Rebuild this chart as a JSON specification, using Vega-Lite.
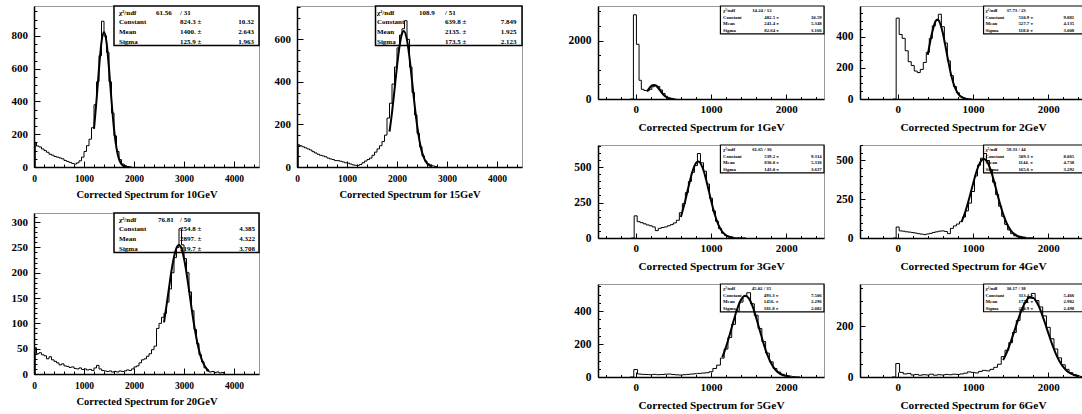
{
"$schema":"https://vega.github.io/schema/vega-lite/v6.json",
"padding":{"left":10,"top":0,"right":5,"bottom":5},
"config":{
 "view":{"stroke":"#999","strokeWidth":1},
 "mark":{"color":"black"},
 "text":{"font":"Liberation Serif","fontWeight":"bold","baseline":"top","lineBreak":"\n","color":"black"},
 "axis":{"grid":false,"domainColor":"black","domainWidth":1.5,"tickColor":"black","tickWidth":1,"labelFont":"Liberation Serif","labelFontWeight":"bold","labelColor":"black","titleFont":"Liberation Serif","titleFontWeight":"bold","titleColor":"black","labelFlush":false,"labelOverlap":false,"titlePadding":4},
 "axisX":{"labelPadding":12},
 "axisY":{"labelPadding":12.5}
},
"datasets":{
"s":[
{"p":"10GeV","n":"χ²/ndf\nConstant\nMean\nSigma","c":"61.56","v":"/  31\n824.3 ±\n1400. ±\n125.9 ±","e":"10.32\n2.643\n1.963"},
{"p":"15GeV","n":"χ²/ndf\nConstant\nMean\nSigma","c":"108.9","v":"/  51\n639.8 ±\n2135. ±\n173.5 ±","e":"7.849\n1.925\n2.123"},
{"p":"20GeV","n":"χ²/ndf\nConstant\nMean\nSigma","c":"76.81","v":"/  50\n254.8 ±\n2897. ±\n219.7 ±","e":"4.385\n4.322\n3.708"},
{"p":"1GeV","n":"χ²/ndf\nConstant\nMean\nSigma","c":"14.24","v":"/  12\n482.5 ±\n241.4 ±\n82.64 ±","e":"10.59\n5.348\n3.166"},
{"p":"2GeV","n":"χ²/ndf\nConstant\nMean\nSigma","c":"37.73","v":"/  23\n510.9 ±\n527.7 ±\n118.0 ±","e":"9.881\n4.135\n3.008"},
{"p":"3GeV","n":"χ²/ndf\nConstant\nMean\nSigma","c":"61.65","v":"/  36\n539.2 ±\n830.0 ±\n143.0 ±","e":"9.314\n5.318\n3.637"},
{"p":"4GeV","n":"χ²/ndf\nConstant\nMean\nSigma","c":"59.33","v":"/  44\n509.3 ±\n1144. ±\n165.6 ±","e":"8.065\n4.738\n3.292"},
{"p":"5GeV","n":"χ²/ndf\nConstant\nMean\nSigma","c":"45.02","v":"/  35\n493.3 ±\n1456. ±\n181.8 ±","e":"7.506\n2.296\n2.082"},
{"p":"6GeV","n":"χ²/ndf\nConstant\nMean\nSigma","c":"30.17","v":"/  38\n313.4 ±\n1770. ±\n210.9 ±","e":"5.466\n2.982\n2.498"}
],
"h":[
{"p":"10GeV","x":0,"y":0},{"p":"10GeV","x":25,"y":150},{"p":"10GeV","x":50,"y":128},{"p":"10GeV","x":100,"y":122},{"p":"10GeV","x":150,"y":110},{"p":"10GeV","x":200,"y":100},{"p":"10GeV","x":250,"y":90},{"p":"10GeV","x":300,"y":78},{"p":"10GeV","x":350,"y":72},{"p":"10GeV","x":400,"y":64},{"p":"10GeV","x":450,"y":60},{"p":"10GeV","x":500,"y":55},{"p":"10GeV","x":550,"y":50},{"p":"10GeV","x":600,"y":40},{"p":"10GeV","x":650,"y":34},{"p":"10GeV","x":700,"y":28},{"p":"10GeV","x":750,"y":22},{"p":"10GeV","x":800,"y":18},{"p":"10GeV","x":850,"y":25},{"p":"10GeV","x":900,"y":38},{"p":"10GeV","x":950,"y":60},{"p":"10GeV","x":1000,"y":95},{"p":"10GeV","x":1050,"y":130},{"p":"10GeV","x":1100,"y":170},{"p":"10GeV","x":1150,"y":240},{"p":"10GeV","x":1200,"y":380},{"p":"10GeV","x":1250,"y":520},{"p":"10GeV","x":1300,"y":680},{"p":"10GeV","x":1350,"y":890},{"p":"10GeV","x":1400,"y":800},{"p":"10GeV","x":1450,"y":700},{"p":"10GeV","x":1500,"y":520},{"p":"10GeV","x":1550,"y":330},{"p":"10GeV","x":1600,"y":190},{"p":"10GeV","x":1650,"y":95},{"p":"10GeV","x":1700,"y":45},{"p":"10GeV","x":1750,"y":18},{"p":"10GeV","x":1800,"y":8},{"p":"10GeV","x":1850,"y":3},{"p":"10GeV","x":1900,"y":1},{"p":"10GeV","x":1950,"y":0},
{"p":"15GeV","x":0,"y":0},{"p":"15GeV","x":25,"y":105},{"p":"15GeV","x":50,"y":100},{"p":"15GeV","x":100,"y":95},{"p":"15GeV","x":150,"y":90},{"p":"15GeV","x":200,"y":85},{"p":"15GeV","x":250,"y":80},{"p":"15GeV","x":300,"y":72},{"p":"15GeV","x":350,"y":66},{"p":"15GeV","x":400,"y":60},{"p":"15GeV","x":450,"y":55},{"p":"15GeV","x":500,"y":52},{"p":"15GeV","x":550,"y":48},{"p":"15GeV","x":600,"y":42},{"p":"15GeV","x":650,"y":38},{"p":"15GeV","x":700,"y":35},{"p":"15GeV","x":750,"y":30},{"p":"15GeV","x":800,"y":30},{"p":"15GeV","x":850,"y":27},{"p":"15GeV","x":900,"y":24},{"p":"15GeV","x":950,"y":20},{"p":"15GeV","x":1000,"y":18},{"p":"15GeV","x":1050,"y":14},{"p":"15GeV","x":1100,"y":10},{"p":"15GeV","x":1150,"y":8},{"p":"15GeV","x":1200,"y":8},{"p":"15GeV","x":1250,"y":12},{"p":"15GeV","x":1300,"y":20},{"p":"15GeV","x":1350,"y":28},{"p":"15GeV","x":1400,"y":35},{"p":"15GeV","x":1450,"y":42},{"p":"15GeV","x":1500,"y":55},{"p":"15GeV","x":1550,"y":70},{"p":"15GeV","x":1600,"y":85},{"p":"15GeV","x":1650,"y":100},{"p":"15GeV","x":1700,"y":120},{"p":"15GeV","x":1750,"y":150},{"p":"15GeV","x":1800,"y":230},{"p":"15GeV","x":1850,"y":300},{"p":"15GeV","x":1900,"y":390},{"p":"15GeV","x":1950,"y":470},{"p":"15GeV","x":2000,"y":560},{"p":"15GeV","x":2050,"y":620},{"p":"15GeV","x":2100,"y":650},{"p":"15GeV","x":2150,"y":688},{"p":"15GeV","x":2200,"y":600},{"p":"15GeV","x":2250,"y":470},{"p":"15GeV","x":2300,"y":350},{"p":"15GeV","x":2350,"y":245},{"p":"15GeV","x":2400,"y":158},{"p":"15GeV","x":2450,"y":95},{"p":"15GeV","x":2500,"y":52},{"p":"15GeV","x":2550,"y":28},{"p":"15GeV","x":2600,"y":15},{"p":"15GeV","x":2650,"y":10},{"p":"15GeV","x":2700,"y":5},{"p":"15GeV","x":2750,"y":2},{"p":"15GeV","x":2800,"y":0},
{"p":"20GeV","x":0,"y":0},{"p":"20GeV","x":25,"y":52},{"p":"20GeV","x":50,"y":40},{"p":"20GeV","x":100,"y":42},{"p":"20GeV","x":150,"y":38},{"p":"20GeV","x":200,"y":36},{"p":"20GeV","x":250,"y":30},{"p":"20GeV","x":300,"y":34},{"p":"20GeV","x":350,"y":28},{"p":"20GeV","x":400,"y":25},{"p":"20GeV","x":450,"y":22},{"p":"20GeV","x":500,"y":18},{"p":"20GeV","x":550,"y":20},{"p":"20GeV","x":600,"y":16},{"p":"20GeV","x":650,"y":15},{"p":"20GeV","x":700,"y":13},{"p":"20GeV","x":750,"y":14},{"p":"20GeV","x":800,"y":11},{"p":"20GeV","x":850,"y":10},{"p":"20GeV","x":900,"y":12},{"p":"20GeV","x":950,"y":9},{"p":"20GeV","x":1000,"y":10},{"p":"20GeV","x":1050,"y":8},{"p":"20GeV","x":1100,"y":9},{"p":"20GeV","x":1150,"y":7},{"p":"20GeV","x":1200,"y":12},{"p":"20GeV","x":1250,"y":17},{"p":"20GeV","x":1300,"y":10},{"p":"20GeV","x":1350,"y":7},{"p":"20GeV","x":1400,"y":6},{"p":"20GeV","x":1450,"y":5},{"p":"20GeV","x":1500,"y":6},{"p":"20GeV","x":1550,"y":4},{"p":"20GeV","x":1600,"y":5},{"p":"20GeV","x":1650,"y":4},{"p":"20GeV","x":1700,"y":6},{"p":"20GeV","x":1750,"y":5},{"p":"20GeV","x":1800,"y":6},{"p":"20GeV","x":1850,"y":8},{"p":"20GeV","x":1900,"y":7},{"p":"20GeV","x":1950,"y":10},{"p":"20GeV","x":2000,"y":14},{"p":"20GeV","x":2050,"y":16},{"p":"20GeV","x":2100,"y":22},{"p":"20GeV","x":2150,"y":28},{"p":"20GeV","x":2200,"y":30},{"p":"20GeV","x":2250,"y":35},{"p":"20GeV","x":2300,"y":40},{"p":"20GeV","x":2350,"y":48},{"p":"20GeV","x":2400,"y":55},{"p":"20GeV","x":2450,"y":90},{"p":"20GeV","x":2500,"y":100},{"p":"20GeV","x":2550,"y":112},{"p":"20GeV","x":2600,"y":120},{"p":"20GeV","x":2650,"y":142},{"p":"20GeV","x":2700,"y":168},{"p":"20GeV","x":2750,"y":200},{"p":"20GeV","x":2800,"y":230},{"p":"20GeV","x":2850,"y":250},{"p":"20GeV","x":2900,"y":287},{"p":"20GeV","x":2950,"y":255},{"p":"20GeV","x":3000,"y":228},{"p":"20GeV","x":3050,"y":200},{"p":"20GeV","x":3100,"y":162},{"p":"20GeV","x":3150,"y":125},{"p":"20GeV","x":3200,"y":88},{"p":"20GeV","x":3250,"y":60},{"p":"20GeV","x":3300,"y":38},{"p":"20GeV","x":3350,"y":24},{"p":"20GeV","x":3400,"y":12},{"p":"20GeV","x":3450,"y":6},{"p":"20GeV","x":3500,"y":4},{"p":"20GeV","x":3550,"y":5},{"p":"20GeV","x":3600,"y":3},{"p":"20GeV","x":3650,"y":4},{"p":"20GeV","x":3700,"y":2},{"p":"20GeV","x":3750,"y":3},{"p":"20GeV","x":3800,"y":0},
{"p":"1GeV","x":-70,"y":0},{"p":"1GeV","x":-30,"y":2880},{"p":"1GeV","x":10,"y":1870},{"p":"1GeV","x":45,"y":640},{"p":"1GeV","x":75,"y":330},{"p":"1GeV","x":110,"y":290},{"p":"1GeV","x":145,"y":280},{"p":"1GeV","x":180,"y":330},{"p":"1GeV","x":215,"y":420},{"p":"1GeV","x":250,"y":470},{"p":"1GeV","x":285,"y":430},{"p":"1GeV","x":320,"y":310},{"p":"1GeV","x":355,"y":190},{"p":"1GeV","x":390,"y":92},{"p":"1GeV","x":425,"y":40},{"p":"1GeV","x":460,"y":14},{"p":"1GeV","x":495,"y":4},{"p":"1GeV","x":530,"y":0},
{"p":"2GeV","x":-60,"y":0},{"p":"2GeV","x":-20,"y":520},{"p":"2GeV","x":20,"y":415},{"p":"2GeV","x":60,"y":390},{"p":"2GeV","x":100,"y":310},{"p":"2GeV","x":140,"y":240},{"p":"2GeV","x":180,"y":215},{"p":"2GeV","x":220,"y":180},{"p":"2GeV","x":260,"y":170},{"p":"2GeV","x":300,"y":190},{"p":"2GeV","x":340,"y":235},{"p":"2GeV","x":380,"y":300},{"p":"2GeV","x":420,"y":390},{"p":"2GeV","x":460,"y":470},{"p":"2GeV","x":500,"y":505},{"p":"2GeV","x":540,"y":545},{"p":"2GeV","x":580,"y":465},{"p":"2GeV","x":620,"y":360},{"p":"2GeV","x":660,"y":245},{"p":"2GeV","x":700,"y":150},{"p":"2GeV","x":740,"y":80},{"p":"2GeV","x":780,"y":40},{"p":"2GeV","x":820,"y":16},{"p":"2GeV","x":860,"y":7},{"p":"2GeV","x":900,"y":3},{"p":"2GeV","x":940,"y":1},{"p":"2GeV","x":980,"y":0},
{"p":"3GeV","x":-60,"y":0},{"p":"3GeV","x":-20,"y":156},{"p":"3GeV","x":20,"y":115},{"p":"3GeV","x":60,"y":108},{"p":"3GeV","x":100,"y":100},{"p":"3GeV","x":140,"y":92},{"p":"3GeV","x":180,"y":86},{"p":"3GeV","x":220,"y":78},{"p":"3GeV","x":260,"y":52},{"p":"3GeV","x":300,"y":68},{"p":"3GeV","x":340,"y":74},{"p":"3GeV","x":380,"y":78},{"p":"3GeV","x":420,"y":86},{"p":"3GeV","x":460,"y":94},{"p":"3GeV","x":500,"y":106},{"p":"3GeV","x":540,"y":125},{"p":"3GeV","x":580,"y":178},{"p":"3GeV","x":620,"y":242},{"p":"3GeV","x":660,"y":320},{"p":"3GeV","x":700,"y":398},{"p":"3GeV","x":740,"y":462},{"p":"3GeV","x":780,"y":510},{"p":"3GeV","x":820,"y":595},{"p":"3GeV","x":860,"y":530},{"p":"3GeV","x":900,"y":470},{"p":"3GeV","x":940,"y":380},{"p":"3GeV","x":980,"y":280},{"p":"3GeV","x":1020,"y":190},{"p":"3GeV","x":1060,"y":118},{"p":"3GeV","x":1100,"y":66},{"p":"3GeV","x":1140,"y":34},{"p":"3GeV","x":1180,"y":17},{"p":"3GeV","x":1220,"y":8},{"p":"3GeV","x":1260,"y":4},{"p":"3GeV","x":1300,"y":2},{"p":"3GeV","x":1340,"y":2},{"p":"3GeV","x":1380,"y":1},{"p":"3GeV","x":1460,"y":0},
{"p":"4GeV","x":-60,"y":0},{"p":"4GeV","x":-20,"y":71},{"p":"4GeV","x":20,"y":46},{"p":"4GeV","x":60,"y":44},{"p":"4GeV","x":100,"y":40},{"p":"4GeV","x":140,"y":38},{"p":"4GeV","x":180,"y":35},{"p":"4GeV","x":220,"y":32},{"p":"4GeV","x":260,"y":28},{"p":"4GeV","x":300,"y":25},{"p":"4GeV","x":340,"y":22},{"p":"4GeV","x":380,"y":26},{"p":"4GeV","x":420,"y":30},{"p":"4GeV","x":460,"y":36},{"p":"4GeV","x":500,"y":40},{"p":"4GeV","x":540,"y":44},{"p":"4GeV","x":580,"y":46},{"p":"4GeV","x":620,"y":42},{"p":"4GeV","x":660,"y":28},{"p":"4GeV","x":700,"y":62},{"p":"4GeV","x":740,"y":78},{"p":"4GeV","x":780,"y":90},{"p":"4GeV","x":820,"y":105},{"p":"4GeV","x":860,"y":135},{"p":"4GeV","x":900,"y":175},{"p":"4GeV","x":940,"y":225},{"p":"4GeV","x":980,"y":300},{"p":"4GeV","x":1020,"y":400},{"p":"4GeV","x":1060,"y":470},{"p":"4GeV","x":1100,"y":515},{"p":"4GeV","x":1140,"y":545},{"p":"4GeV","x":1180,"y":500},{"p":"4GeV","x":1220,"y":440},{"p":"4GeV","x":1260,"y":360},{"p":"4GeV","x":1300,"y":280},{"p":"4GeV","x":1340,"y":205},{"p":"4GeV","x":1380,"y":140},{"p":"4GeV","x":1420,"y":88},{"p":"4GeV","x":1460,"y":52},{"p":"4GeV","x":1500,"y":28},{"p":"4GeV","x":1540,"y":15},{"p":"4GeV","x":1580,"y":8},{"p":"4GeV","x":1620,"y":4},{"p":"4GeV","x":1660,"y":2},{"p":"4GeV","x":1700,"y":1},{"p":"4GeV","x":1800,"y":0},
{"p":"5GeV","x":-75,"y":0},{"p":"5GeV","x":-25,"y":45},{"p":"5GeV","x":25,"y":18},{"p":"5GeV","x":75,"y":16},{"p":"5GeV","x":125,"y":15},{"p":"5GeV","x":175,"y":14},{"p":"5GeV","x":225,"y":16},{"p":"5GeV","x":275,"y":14},{"p":"5GeV","x":325,"y":15},{"p":"5GeV","x":375,"y":17},{"p":"5GeV","x":425,"y":18},{"p":"5GeV","x":475,"y":15},{"p":"5GeV","x":525,"y":13},{"p":"5GeV","x":575,"y":12},{"p":"5GeV","x":625,"y":14},{"p":"5GeV","x":675,"y":16},{"p":"5GeV","x":725,"y":18},{"p":"5GeV","x":775,"y":20},{"p":"5GeV","x":825,"y":22},{"p":"5GeV","x":875,"y":24},{"p":"5GeV","x":925,"y":26},{"p":"5GeV","x":975,"y":32},{"p":"5GeV","x":1025,"y":52},{"p":"5GeV","x":1075,"y":72},{"p":"5GeV","x":1125,"y":115},{"p":"5GeV","x":1175,"y":170},{"p":"5GeV","x":1225,"y":240},{"p":"5GeV","x":1275,"y":320},{"p":"5GeV","x":1325,"y":400},{"p":"5GeV","x":1375,"y":455},{"p":"5GeV","x":1425,"y":490},{"p":"5GeV","x":1475,"y":512},{"p":"5GeV","x":1525,"y":445},{"p":"5GeV","x":1575,"y":375},{"p":"5GeV","x":1625,"y":295},{"p":"5GeV","x":1675,"y":215},{"p":"5GeV","x":1725,"y":145},{"p":"5GeV","x":1775,"y":92},{"p":"5GeV","x":1825,"y":52},{"p":"5GeV","x":1875,"y":30},{"p":"5GeV","x":1925,"y":16},{"p":"5GeV","x":1975,"y":9},{"p":"5GeV","x":2025,"y":5},{"p":"5GeV","x":2075,"y":2},{"p":"5GeV","x":2125,"y":1},{"p":"5GeV","x":2175,"y":0},
{"p":"6GeV","x":-75,"y":0},{"p":"6GeV","x":-25,"y":53},{"p":"6GeV","x":25,"y":18},{"p":"6GeV","x":75,"y":12},{"p":"6GeV","x":125,"y":14},{"p":"6GeV","x":175,"y":8},{"p":"6GeV","x":225,"y":10},{"p":"6GeV","x":275,"y":7},{"p":"6GeV","x":325,"y":9},{"p":"6GeV","x":375,"y":8},{"p":"6GeV","x":425,"y":11},{"p":"6GeV","x":475,"y":7},{"p":"6GeV","x":525,"y":9},{"p":"6GeV","x":575,"y":8},{"p":"6GeV","x":625,"y":10},{"p":"6GeV","x":675,"y":9},{"p":"6GeV","x":725,"y":11},{"p":"6GeV","x":775,"y":10},{"p":"6GeV","x":825,"y":12},{"p":"6GeV","x":875,"y":15},{"p":"6GeV","x":925,"y":20},{"p":"6GeV","x":975,"y":18},{"p":"6GeV","x":1025,"y":16},{"p":"6GeV","x":1075,"y":22},{"p":"6GeV","x":1125,"y":26},{"p":"6GeV","x":1175,"y":24},{"p":"6GeV","x":1225,"y":30},{"p":"6GeV","x":1275,"y":38},{"p":"6GeV","x":1325,"y":50},{"p":"6GeV","x":1375,"y":80},{"p":"6GeV","x":1425,"y":105},{"p":"6GeV","x":1475,"y":135},{"p":"6GeV","x":1525,"y":175},{"p":"6GeV","x":1575,"y":222},{"p":"6GeV","x":1625,"y":262},{"p":"6GeV","x":1675,"y":292},{"p":"6GeV","x":1725,"y":315},{"p":"6GeV","x":1775,"y":328},{"p":"6GeV","x":1825,"y":300},{"p":"6GeV","x":1875,"y":275},{"p":"6GeV","x":1925,"y":240},{"p":"6GeV","x":1975,"y":195},{"p":"6GeV","x":2025,"y":150},{"p":"6GeV","x":2075,"y":110},{"p":"6GeV","x":2125,"y":75},{"p":"6GeV","x":2175,"y":48},{"p":"6GeV","x":2225,"y":30},{"p":"6GeV","x":2275,"y":17},{"p":"6GeV","x":2325,"y":9},{"p":"6GeV","x":2375,"y":4},{"p":"6GeV","x":2425,"y":2},{"p":"6GeV","x":2475,"y":0}
],
"f":[
{"p":"10GeV","x":1200,"y":233},{"p":"10GeV","x":1250,"y":405},{"p":"10GeV","x":1300,"y":601},{"p":"10GeV","x":1350,"y":762},{"p":"10GeV","x":1400,"y":824},{"p":"10GeV","x":1450,"y":762},{"p":"10GeV","x":1500,"y":601},{"p":"10GeV","x":1550,"y":405},{"p":"10GeV","x":1600,"y":233},{"p":"10GeV","x":1650,"y":115},{"p":"10GeV","x":1700,"y":48},{"p":"10GeV","x":1750,"y":17},{"p":"10GeV","x":1800,"y":5.3},{"p":"10GeV","x":1850,"y":1.5},
{"p":"15GeV","x":1850,"y":166},{"p":"15GeV","x":1900,"y":256},{"p":"15GeV","x":1950,"y":363},{"p":"15GeV","x":2000,"y":473},{"p":"15GeV","x":2050,"y":567},{"p":"15GeV","x":2100,"y":627},{"p":"15GeV","x":2135,"y":640},{"p":"15GeV","x":2200,"y":597},{"p":"15GeV","x":2250,"y":514},{"p":"15GeV","x":2300,"y":407},{"p":"15GeV","x":2350,"y":297},{"p":"15GeV","x":2400,"y":199},{"p":"15GeV","x":2450,"y":123},{"p":"15GeV","x":2500,"y":70},{"p":"15GeV","x":2550,"y":37},{"p":"15GeV","x":2600,"y":17.6},{"p":"15GeV","x":2650,"y":7.8},{"p":"15GeV","x":2700,"y":3.2},
{"p":"20GeV","x":2600,"y":102},{"p":"20GeV","x":2650,"y":135},{"p":"20GeV","x":2700,"y":170},{"p":"20GeV","x":2750,"y":204},{"p":"20GeV","x":2800,"y":231},{"p":"20GeV","x":2850,"y":249},{"p":"20GeV","x":2897,"y":255},{"p":"20GeV","x":2950,"y":248},{"p":"20GeV","x":3000,"y":228},{"p":"20GeV","x":3050,"y":200},{"p":"20GeV","x":3100,"y":166},{"p":"20GeV","x":3150,"y":131},{"p":"20GeV","x":3200,"y":98},{"p":"20GeV","x":3250,"y":70},{"p":"20GeV","x":3300,"y":47},{"p":"20GeV","x":3350,"y":30},{"p":"20GeV","x":3400,"y":18.5},{"p":"20GeV","x":3450,"y":10.7},{"p":"20GeV","x":3500,"y":5.9},
{"p":"1GeV","x":150,"y":262},{"p":"1GeV","x":175,"y":349},{"p":"1GeV","x":200,"y":426},{"p":"1GeV","x":225,"y":473},{"p":"1GeV","x":241,"y":482},{"p":"1GeV","x":275,"y":444},{"p":"1GeV","x":300,"y":375},{"p":"1GeV","x":325,"y":289},{"p":"1GeV","x":350,"y":203},{"p":"1GeV","x":375,"y":130},{"p":"1GeV","x":400,"y":77},{"p":"1GeV","x":425,"y":41},{"p":"1GeV","x":450,"y":20},{"p":"1GeV","x":475,"y":9},{"p":"1GeV","x":500,"y":3.6},
{"p":"2GeV","x":400,"y":284},{"p":"2GeV","x":450,"y":411},{"p":"2GeV","x":500,"y":497},{"p":"2GeV","x":527,"y":511},{"p":"2GeV","x":550,"y":502},{"p":"2GeV","x":600,"y":423},{"p":"2GeV","x":650,"y":299},{"p":"2GeV","x":700,"y":176},{"p":"2GeV","x":750,"y":86.5},{"p":"2GeV","x":800,"y":35.7},{"p":"2GeV","x":850,"y":12.3},{"p":"2GeV","x":900,"y":3.5},
{"p":"3GeV","x":600,"y":148},{"p":"3GeV","x":650,"y":244},{"p":"3GeV","x":700,"y":357},{"p":"3GeV","x":750,"y":461},{"p":"3GeV","x":800,"y":527},{"p":"3GeV","x":830,"y":539},{"p":"3GeV","x":850,"y":534},{"p":"3GeV","x":900,"y":478},{"p":"3GeV","x":950,"y":379},{"p":"3GeV","x":1000,"y":266},{"p":"3GeV","x":1050,"y":165},{"p":"3GeV","x":1100,"y":91},{"p":"3GeV","x":1150,"y":44},{"p":"3GeV","x":1200,"y":19},{"p":"3GeV","x":1250,"y":7.2},{"p":"3GeV","x":1300,"y":2.4},
{"p":"4GeV","x":850,"y":105},{"p":"4GeV","x":900,"y":172},{"p":"4GeV","x":950,"y":256},{"p":"4GeV","x":1000,"y":349},{"p":"4GeV","x":1050,"y":434},{"p":"4GeV","x":1100,"y":492},{"p":"4GeV","x":1144,"y":509},{"p":"4GeV","x":1200,"y":481},{"p":"4GeV","x":1250,"y":415},{"p":"4GeV","x":1300,"y":327},{"p":"4GeV","x":1350,"y":235},{"p":"4GeV","x":1400,"y":154},{"p":"4GeV","x":1450,"y":92},{"p":"4GeV","x":1500,"y":50},{"p":"4GeV","x":1550,"y":25},{"p":"4GeV","x":1600,"y":11.5},{"p":"4GeV","x":1650,"y":4.8},{"p":"4GeV","x":1700,"y":1.8},
{"p":"5GeV","x":1150,"y":120},{"p":"5GeV","x":1200,"y":183},{"p":"5GeV","x":1250,"y":260},{"p":"5GeV","x":1300,"y":341},{"p":"5GeV","x":1350,"y":416},{"p":"5GeV","x":1400,"y":470},{"p":"5GeV","x":1456,"y":493},{"p":"5GeV","x":1500,"y":479},{"p":"5GeV","x":1550,"y":432},{"p":"5GeV","x":1600,"y":360},{"p":"5GeV","x":1650,"y":279},{"p":"5GeV","x":1700,"y":200},{"p":"5GeV","x":1750,"y":133},{"p":"5GeV","x":1800,"y":82},{"p":"5GeV","x":1850,"y":47},{"p":"5GeV","x":1900,"y":25},{"p":"5GeV","x":1950,"y":12.3},{"p":"5GeV","x":2000,"y":5.6},{"p":"5GeV","x":2050,"y":2.4},
{"p":"6GeV","x":1400,"y":66},{"p":"6GeV","x":1450,"y":98},{"p":"6GeV","x":1500,"y":137},{"p":"6GeV","x":1550,"y":181},{"p":"6GeV","x":1600,"y":226},{"p":"6GeV","x":1650,"y":266},{"p":"6GeV","x":1700,"y":296},{"p":"6GeV","x":1750,"y":312},{"p":"6GeV","x":1800,"y":310},{"p":"6GeV","x":1850,"y":291},{"p":"6GeV","x":1900,"y":259},{"p":"6GeV","x":1950,"y":217},{"p":"6GeV","x":2000,"y":172},{"p":"6GeV","x":2050,"y":129},{"p":"6GeV","x":2100,"y":91},{"p":"6GeV","x":2150,"y":61},{"p":"6GeV","x":2200,"y":38.5},{"p":"6GeV","x":2250,"y":23},{"p":"6GeV","x":2300,"y":13},{"p":"6GeV","x":2350,"y":6.9},{"p":"6GeV","x":2400,"y":3.5}
]
},
"spacing":43,
"hconcat":[
{"spacing":12,"hconcat":[
 {"spacing":46,"bounds":"flush","vconcat":[
  {"width":225,"height":161,"layer":[
   {"data":{"name":"s"},"transform":[{"filter":"datum.p==='10GeV'"}],"mark":{"type":"rect","fill":"white","stroke":"black","strokeWidth":1.5},"encoding":{"x":{"datum":1600,"type":"quantitative"},"x2":{"datum":4500},"y":{"datum":742,"type":"quantitative"},"y2":{"datum":983}}},
   {"data":{"name":"s"},"transform":[{"filter":"datum.p==='10GeV'"}],"mark":{"type":"text","align":"left","fontSize":7,"lineHeight":9.7,"dy":2.5},"encoding":{"x":{"datum":1700,"type":"quantitative"},"y":{"datum":983,"type":"quantitative"},"text":{"field":"n"}}},
   {"data":{"name":"s"},"transform":[{"filter":"datum.p==='10GeV'"}],"mark":{"type":"text","align":"left","fontSize":7,"lineHeight":9.7,"dy":2.5},"encoding":{"x":{"datum":2440,"type":"quantitative"},"y":{"datum":983,"type":"quantitative"},"text":{"field":"c"}}},
   {"data":{"name":"s"},"transform":[{"filter":"datum.p==='10GeV'"}],"mark":{"type":"text","align":"left","fontSize":7,"lineHeight":9.7,"dy":2.5},"encoding":{"x":{"datum":2920,"type":"quantitative"},"y":{"datum":983,"type":"quantitative"},"text":{"field":"v"}}},
   {"data":{"name":"s"},"transform":[{"filter":"datum.p==='10GeV'"}],"mark":{"type":"text","align":"right","fontSize":7,"lineHeight":9.7,"dy":12.2},"encoding":{"x":{"datum":4400,"type":"quantitative"},"y":{"datum":983,"type":"quantitative"},"text":{"field":"e"}}},
   {"data":{"name":"h"},"transform":[{"filter":"datum.p==='10GeV'"}],"mark":{"type":"line","interpolate":"step-after","strokeWidth":1},"encoding":{
     "x":{"field":"x","type":"quantitative","scale":{"domain":[0,4500],"nice":false},"axis":{"title":"Corrected Spectrum for 10GeV","tickCount":22,"labelExpr":"datum.value % 1000 === 0 ? format(datum.value,'d') : ''","tickSize":{"condition":{"test":"datum.value % 1000 === 0","value":-6},"value":-3},"labelFontSize":9.5,"titleFontSize":10.5}},
     "y":{"field":"y","type":"quantitative","scale":{"domain":[0,983],"nice":false},"axis":{"title":null,"tickCount":20,"labelExpr":"datum.value % 200 === 0 ? format(datum.value,'d') : ''","tickSize":{"condition":{"test":"datum.value % 200 === 0","value":-6},"value":-3},"labelFontSize":11}}}},
   {"data":{"name":"f"},"transform":[{"filter":"datum.p==='10GeV'"}],"mark":{"type":"line","interpolate":"monotone","strokeWidth":2},"encoding":{"x":{"field":"x","type":"quantitative"},"y":{"field":"y","type":"quantitative"}}}
  ]},
  {"width":225,"height":161,"layer":[
   {"data":{"name":"s"},"transform":[{"filter":"datum.p==='20GeV'"}],"mark":{"type":"rect","fill":"white","stroke":"black","strokeWidth":1.5},"encoding":{"x":{"datum":1600,"type":"quantitative"},"x2":{"datum":4500},"y":{"datum":240,"type":"quantitative"},"y2":{"datum":318}}},
   {"data":{"name":"s"},"transform":[{"filter":"datum.p==='20GeV'"}],"mark":{"type":"text","align":"left","fontSize":7,"lineHeight":9.7,"dy":2.5},"encoding":{"x":{"datum":1700,"type":"quantitative"},"y":{"datum":318,"type":"quantitative"},"text":{"field":"n"}}},
   {"data":{"name":"s"},"transform":[{"filter":"datum.p==='20GeV'"}],"mark":{"type":"text","align":"left","fontSize":7,"lineHeight":9.7,"dy":2.5},"encoding":{"x":{"datum":2480,"type":"quantitative"},"y":{"datum":318,"type":"quantitative"},"text":{"field":"c"}}},
   {"data":{"name":"s"},"transform":[{"filter":"datum.p==='20GeV'"}],"mark":{"type":"text","align":"left","fontSize":7,"lineHeight":9.7,"dy":2.5},"encoding":{"x":{"datum":2920,"type":"quantitative"},"y":{"datum":318,"type":"quantitative"},"text":{"field":"v"}}},
   {"data":{"name":"s"},"transform":[{"filter":"datum.p==='20GeV'"}],"mark":{"type":"text","align":"right","fontSize":7,"lineHeight":9.7,"dy":12.2},"encoding":{"x":{"datum":4420,"type":"quantitative"},"y":{"datum":318,"type":"quantitative"},"text":{"field":"e"}}},
   {"data":{"name":"h"},"transform":[{"filter":"datum.p==='20GeV'"}],"mark":{"type":"line","interpolate":"step-after","strokeWidth":1},"encoding":{
     "x":{"field":"x","type":"quantitative","scale":{"domain":[0,4500],"nice":false},"axis":{"title":"Corrected Spectrum for 20GeV","tickCount":22,"labelExpr":"datum.value % 1000 === 0 ? format(datum.value,'d') : ''","tickSize":{"condition":{"test":"datum.value % 1000 === 0","value":-6},"value":-3},"labelFontSize":9.5,"titleFontSize":10.5}},
     "y":{"field":"y","type":"quantitative","scale":{"domain":[0,318],"nice":false},"axis":{"title":null,"tickCount":32,"labelExpr":"datum.value % 50 === 0 ? format(datum.value,'d') : ''","tickSize":{"condition":{"test":"datum.value % 50 === 0","value":-6},"value":-3},"labelFontSize":11}}}},
   {"data":{"name":"f"},"transform":[{"filter":"datum.p==='20GeV'"}],"mark":{"type":"line","interpolate":"monotone","strokeWidth":2},"encoding":{"x":{"field":"x","type":"quantitative"},"y":{"field":"y","type":"quantitative"}}}
  ]}
 ]},
 {"width":225,"height":161,"layer":[
   {"data":{"name":"s"},"transform":[{"filter":"datum.p==='15GeV'"}],"mark":{"type":"rect","fill":"white","stroke":"black","strokeWidth":1.5},"encoding":{"x":{"datum":1570,"type":"quantitative"},"x2":{"datum":4500},"y":{"datum":571,"type":"quantitative"},"y2":{"datum":757}}},
   {"data":{"name":"s"},"transform":[{"filter":"datum.p==='15GeV'"}],"mark":{"type":"text","align":"left","fontSize":7,"lineHeight":9.7,"dy":2.5},"encoding":{"x":{"datum":1600,"type":"quantitative"},"y":{"datum":757,"type":"quantitative"},"text":{"field":"n"}}},
   {"data":{"name":"s"},"transform":[{"filter":"datum.p==='15GeV'"}],"mark":{"type":"text","align":"left","fontSize":7,"lineHeight":9.7,"dy":2.5},"encoding":{"x":{"datum":2440,"type":"quantitative"},"y":{"datum":757,"type":"quantitative"},"text":{"field":"c"}}},
   {"data":{"name":"s"},"transform":[{"filter":"datum.p==='15GeV'"}],"mark":{"type":"text","align":"left","fontSize":7,"lineHeight":9.7,"dy":2.5},"encoding":{"x":{"datum":2960,"type":"quantitative"},"y":{"datum":757,"type":"quantitative"},"text":{"field":"v"}}},
   {"data":{"name":"s"},"transform":[{"filter":"datum.p==='15GeV'"}],"mark":{"type":"text","align":"right","fontSize":7,"lineHeight":9.7,"dy":12.2},"encoding":{"x":{"datum":4390,"type":"quantitative"},"y":{"datum":757,"type":"quantitative"},"text":{"field":"e"}}},
   {"data":{"name":"h"},"transform":[{"filter":"datum.p==='15GeV'"}],"mark":{"type":"line","interpolate":"step-after","strokeWidth":1},"encoding":{
     "x":{"field":"x","type":"quantitative","scale":{"domain":[0,4500],"nice":false},"axis":{"title":"Corrected Spectrum for 15GeV","tickCount":22,"labelExpr":"datum.value % 1000 === 0 ? format(datum.value,'d') : ''","tickSize":{"condition":{"test":"datum.value % 1000 === 0","value":-6},"value":-3},"labelFontSize":9.5,"titleFontSize":10.5}},
     "y":{"field":"y","type":"quantitative","scale":{"domain":[0,757],"nice":false},"axis":{"title":null,"tickCount":15,"labelExpr":"datum.value % 200 === 0 ? format(datum.value,'d') : ''","tickSize":{"condition":{"test":"datum.value % 200 === 0","value":-6},"value":-3},"labelFontSize":11}}}},
   {"data":{"name":"f"},"transform":[{"filter":"datum.p==='15GeV'"}],"mark":{"type":"line","interpolate":"monotone","strokeWidth":2},"encoding":{"x":{"field":"x","type":"quantitative"},"y":{"field":"y","type":"quantitative"}}}
 ]}
]},
{"spacing":9,"hconcat":[
 {"spacing":46,"bounds":"flush","vconcat":[
  {"width":226,"height":93,"layer":[
   {"data":{"name":"s"},"transform":[{"filter":"datum.p==='1GeV'"}],"mark":{"type":"rect","fill":"white","stroke":"black","strokeWidth":1.2},"encoding":{"x":{"datum":1125,"type":"quantitative"},"x2":{"datum":2500},"y":{"datum":2226,"type":"quantitative"},"y2":{"datum":3180}}},
   {"data":{"name":"s"},"transform":[{"filter":"datum.p==='1GeV'"}],"mark":{"type":"text","align":"left","fontSize":4.8,"lineHeight":6.7,"dy":2},"encoding":{"x":{"datum":1160,"type":"quantitative"},"y":{"datum":3180,"type":"quantitative"},"text":{"field":"n"}}},
   {"data":{"name":"s"},"transform":[{"filter":"datum.p==='1GeV'"}],"mark":{"type":"text","align":"left","fontSize":4.8,"lineHeight":6.7,"dy":2},"encoding":{"x":{"datum":1547,"type":"quantitative"},"y":{"datum":3180,"type":"quantitative"},"text":{"field":"c"}}},
   {"data":{"name":"s"},"transform":[{"filter":"datum.p==='1GeV'"}],"mark":{"type":"text","align":"left","fontSize":4.8,"lineHeight":6.7,"dy":2},"encoding":{"x":{"datum":1707,"type":"quantitative"},"y":{"datum":3180,"type":"quantitative"},"text":{"field":"v"}}},
   {"data":{"name":"s"},"transform":[{"filter":"datum.p==='1GeV'"}],"mark":{"type":"text","align":"right","fontSize":4.8,"lineHeight":6.7,"dy":8.7},"encoding":{"x":{"datum":2470,"type":"quantitative"},"y":{"datum":3180,"type":"quantitative"},"text":{"field":"e"}}},
   {"data":{"name":"h"},"transform":[{"filter":"datum.p==='1GeV'"}],"mark":{"type":"line","interpolate":"step-after","strokeWidth":1},"encoding":{
     "x":{"field":"x","type":"quantitative","scale":{"domain":[-500,2500],"nice":false},"axis":{"title":"Corrected Spectrum for 1GeV","tickCount":15,"labelPadding":9.5,"labelExpr":"datum.value % 1000 === 0 ? format(datum.value,'d') : ''","tickSize":{"condition":{"test":"datum.value % 1000 === 0","value":-5},"value":-2.5},"labelFontSize":11,"titleFontSize":11.3}},
     "y":{"field":"y","type":"quantitative","scale":{"domain":[0,3180],"nice":false},"axis":{"title":null,"tickCount":6,"labelPadding":12,"labelExpr":"datum.value % 2000 === 0 ? format(datum.value,'d') : ''","tickSize":{"condition":{"test":"datum.value % 2000 === 0","value":-5},"value":-2.5},"labelFontSize":11.5}}}},
   {"data":{"name":"f"},"transform":[{"filter":"datum.p==='1GeV'"}],"mark":{"type":"line","interpolate":"monotone","strokeWidth":2},"encoding":{"x":{"field":"x","type":"quantitative"},"y":{"field":"y","type":"quantitative"}}}
  ]},
  {"width":226,"height":93,"layer":[
   {"data":{"name":"s"},"transform":[{"filter":"datum.p==='3GeV'"}],"mark":{"type":"rect","fill":"white","stroke":"black","strokeWidth":1.2},"encoding":{"x":{"datum":1125,"type":"quantitative"},"x2":{"datum":2500},"y":{"datum":458,"type":"quantitative"},"y2":{"datum":655}}},
   {"data":{"name":"s"},"transform":[{"filter":"datum.p==='3GeV'"}],"mark":{"type":"text","align":"left","fontSize":4.8,"lineHeight":6.7,"dy":2},"encoding":{"x":{"datum":1160,"type":"quantitative"},"y":{"datum":655,"type":"quantitative"},"text":{"field":"n"}}},
   {"data":{"name":"s"},"transform":[{"filter":"datum.p==='3GeV'"}],"mark":{"type":"text","align":"left","fontSize":4.8,"lineHeight":6.7,"dy":2},"encoding":{"x":{"datum":1547,"type":"quantitative"},"y":{"datum":655,"type":"quantitative"},"text":{"field":"c"}}},
   {"data":{"name":"s"},"transform":[{"filter":"datum.p==='3GeV'"}],"mark":{"type":"text","align":"left","fontSize":4.8,"lineHeight":6.7,"dy":2},"encoding":{"x":{"datum":1707,"type":"quantitative"},"y":{"datum":655,"type":"quantitative"},"text":{"field":"v"}}},
   {"data":{"name":"s"},"transform":[{"filter":"datum.p==='3GeV'"}],"mark":{"type":"text","align":"right","fontSize":4.8,"lineHeight":6.7,"dy":8.7},"encoding":{"x":{"datum":2470,"type":"quantitative"},"y":{"datum":655,"type":"quantitative"},"text":{"field":"e"}}},
   {"data":{"name":"h"},"transform":[{"filter":"datum.p==='3GeV'"}],"mark":{"type":"line","interpolate":"step-after","strokeWidth":1},"encoding":{
     "x":{"field":"x","type":"quantitative","scale":{"domain":[-500,2500],"nice":false},"axis":{"title":"Corrected Spectrum for 3GeV","tickCount":15,"labelPadding":9.5,"labelExpr":"datum.value % 1000 === 0 ? format(datum.value,'d') : ''","tickSize":{"condition":{"test":"datum.value % 1000 === 0","value":-5},"value":-2.5},"labelFontSize":11,"titleFontSize":11.3}},
     "y":{"field":"y","type":"quantitative","scale":{"domain":[0,655],"nice":false},"axis":{"title":null,"tickCount":13,"labelPadding":12,"labelExpr":"datum.value % 250 === 0 ? format(datum.value,'d') : ''","tickSize":{"condition":{"test":"datum.value % 250 === 0","value":-5},"value":-2.5},"labelFontSize":11.5}}}},
   {"data":{"name":"f"},"transform":[{"filter":"datum.p==='3GeV'"}],"mark":{"type":"line","interpolate":"monotone","strokeWidth":2},"encoding":{"x":{"field":"x","type":"quantitative"},"y":{"field":"y","type":"quantitative"}}}
  ]},
  {"width":226,"height":93,"layer":[
   {"data":{"name":"s"},"transform":[{"filter":"datum.p==='5GeV'"}],"mark":{"type":"rect","fill":"white","stroke":"black","strokeWidth":1.2},"encoding":{"x":{"datum":1125,"type":"quantitative"},"x2":{"datum":2500},"y":{"datum":396,"type":"quantitative"},"y2":{"datum":565}}},
   {"data":{"name":"s"},"transform":[{"filter":"datum.p==='5GeV'"}],"mark":{"type":"text","align":"left","fontSize":4.8,"lineHeight":6.7,"dy":2},"encoding":{"x":{"datum":1160,"type":"quantitative"},"y":{"datum":565,"type":"quantitative"},"text":{"field":"n"}}},
   {"data":{"name":"s"},"transform":[{"filter":"datum.p==='5GeV'"}],"mark":{"type":"text","align":"left","fontSize":4.8,"lineHeight":6.7,"dy":2},"encoding":{"x":{"datum":1540,"type":"quantitative"},"y":{"datum":565,"type":"quantitative"},"text":{"field":"c"}}},
   {"data":{"name":"s"},"transform":[{"filter":"datum.p==='5GeV'"}],"mark":{"type":"text","align":"left","fontSize":4.8,"lineHeight":6.7,"dy":2},"encoding":{"x":{"datum":1700,"type":"quantitative"},"y":{"datum":565,"type":"quantitative"},"text":{"field":"v"}}},
   {"data":{"name":"s"},"transform":[{"filter":"datum.p==='5GeV'"}],"mark":{"type":"text","align":"right","fontSize":4.8,"lineHeight":6.7,"dy":8.7},"encoding":{"x":{"datum":2470,"type":"quantitative"},"y":{"datum":565,"type":"quantitative"},"text":{"field":"e"}}},
   {"data":{"name":"h"},"transform":[{"filter":"datum.p==='5GeV'"}],"mark":{"type":"line","interpolate":"step-after","strokeWidth":1},"encoding":{
     "x":{"field":"x","type":"quantitative","scale":{"domain":[-500,2500],"nice":false},"axis":{"title":"Corrected Spectrum for 5GeV","tickCount":15,"labelPadding":9.5,"labelExpr":"datum.value % 1000 === 0 ? format(datum.value,'d') : ''","tickSize":{"condition":{"test":"datum.value % 1000 === 0","value":-5},"value":-2.5},"labelFontSize":11,"titleFontSize":11.3}},
     "y":{"field":"y","type":"quantitative","scale":{"domain":[0,565],"nice":false},"axis":{"title":null,"tickCount":11,"labelPadding":12,"labelExpr":"datum.value % 200 === 0 ? format(datum.value,'d') : ''","tickSize":{"condition":{"test":"datum.value % 200 === 0","value":-5},"value":-2.5},"labelFontSize":11.5}}}},
   {"data":{"name":"f"},"transform":[{"filter":"datum.p==='5GeV'"}],"mark":{"type":"line","interpolate":"monotone","strokeWidth":2},"encoding":{"x":{"field":"x","type":"quantitative"},"y":{"field":"y","type":"quantitative"}}}
  ]}
 ]},
 {"spacing":46,"bounds":"flush","vconcat":[
  {"width":226,"height":93,"layer":[
   {"data":{"name":"s"},"transform":[{"filter":"datum.p==='2GeV'"}],"mark":{"type":"rect","fill":"white","stroke":"black","strokeWidth":1.2},"encoding":{"x":{"datum":1140,"type":"quantitative"},"x2":{"datum":2500},"y":{"datum":419,"type":"quantitative"},"y2":{"datum":598}}},
   {"data":{"name":"s"},"transform":[{"filter":"datum.p==='2GeV'"}],"mark":{"type":"text","align":"left","fontSize":4.8,"lineHeight":6.7,"dy":2},"encoding":{"x":{"datum":1166,"type":"quantitative"},"y":{"datum":598,"type":"quantitative"},"text":{"field":"n"}}},
   {"data":{"name":"s"},"transform":[{"filter":"datum.p==='2GeV'"}],"mark":{"type":"text","align":"left","fontSize":4.8,"lineHeight":6.7,"dy":2},"encoding":{"x":{"datum":1444,"type":"quantitative"},"y":{"datum":598,"type":"quantitative"},"text":{"field":"c"}}},
   {"data":{"name":"s"},"transform":[{"filter":"datum.p==='2GeV'"}],"mark":{"type":"text","align":"left","fontSize":4.8,"lineHeight":6.7,"dy":2},"encoding":{"x":{"datum":1603,"type":"quantitative"},"y":{"datum":598,"type":"quantitative"},"text":{"field":"v"}}},
   {"data":{"name":"s"},"transform":[{"filter":"datum.p==='2GeV'"}],"mark":{"type":"text","align":"right","fontSize":4.8,"lineHeight":6.7,"dy":8.7},"encoding":{"x":{"datum":2344,"type":"quantitative"},"y":{"datum":598,"type":"quantitative"},"text":{"field":"e"}}},
   {"data":{"name":"h"},"transform":[{"filter":"datum.p==='2GeV'"}],"mark":{"type":"line","interpolate":"step-after","strokeWidth":1},"encoding":{
     "x":{"field":"x","type":"quantitative","scale":{"domain":[-500,2500],"nice":false},"axis":{"title":"Corrected Spectrum for 2GeV","tickCount":15,"labelPadding":9.5,"labelExpr":"datum.value % 1000 === 0 ? format(datum.value,'d') : ''","tickSize":{"condition":{"test":"datum.value % 1000 === 0","value":-5},"value":-2.5},"labelFontSize":11,"titleFontSize":11.3}},
     "y":{"field":"y","type":"quantitative","scale":{"domain":[0,598],"nice":false},"axis":{"title":null,"tickCount":12,"labelPadding":12,"labelExpr":"datum.value % 200 === 0 ? format(datum.value,'d') : ''","tickSize":{"condition":{"test":"datum.value % 200 === 0","value":-5},"value":-2.5},"labelFontSize":11.5}}}},
   {"data":{"name":"f"},"transform":[{"filter":"datum.p==='2GeV'"}],"mark":{"type":"line","interpolate":"monotone","strokeWidth":2},"encoding":{"x":{"field":"x","type":"quantitative"},"y":{"field":"y","type":"quantitative"}}}
  ]},
  {"width":226,"height":93,"layer":[
   {"data":{"name":"s"},"transform":[{"filter":"datum.p==='4GeV'"}],"mark":{"type":"rect","fill":"white","stroke":"black","strokeWidth":1.2},"encoding":{"x":{"datum":1140,"type":"quantitative"},"x2":{"datum":2500},"y":{"datum":420,"type":"quantitative"},"y2":{"datum":600}}},
   {"data":{"name":"s"},"transform":[{"filter":"datum.p==='4GeV'"}],"mark":{"type":"text","align":"left","fontSize":4.8,"lineHeight":6.7,"dy":2},"encoding":{"x":{"datum":1166,"type":"quantitative"},"y":{"datum":600,"type":"quantitative"},"text":{"field":"n"}}},
   {"data":{"name":"s"},"transform":[{"filter":"datum.p==='4GeV'"}],"mark":{"type":"text","align":"left","fontSize":4.8,"lineHeight":6.7,"dy":2},"encoding":{"x":{"datum":1444,"type":"quantitative"},"y":{"datum":600,"type":"quantitative"},"text":{"field":"c"}}},
   {"data":{"name":"s"},"transform":[{"filter":"datum.p==='4GeV'"}],"mark":{"type":"text","align":"left","fontSize":4.8,"lineHeight":6.7,"dy":2},"encoding":{"x":{"datum":1603,"type":"quantitative"},"y":{"datum":600,"type":"quantitative"},"text":{"field":"v"}}},
   {"data":{"name":"s"},"transform":[{"filter":"datum.p==='4GeV'"}],"mark":{"type":"text","align":"right","fontSize":4.8,"lineHeight":6.7,"dy":8.7},"encoding":{"x":{"datum":2344,"type":"quantitative"},"y":{"datum":600,"type":"quantitative"},"text":{"field":"e"}}},
   {"data":{"name":"h"},"transform":[{"filter":"datum.p==='4GeV'"}],"mark":{"type":"line","interpolate":"step-after","strokeWidth":1},"encoding":{
     "x":{"field":"x","type":"quantitative","scale":{"domain":[-500,2500],"nice":false},"axis":{"title":"Corrected Spectrum for 4GeV","tickCount":15,"labelPadding":9.5,"labelExpr":"datum.value % 1000 === 0 ? format(datum.value,'d') : ''","tickSize":{"condition":{"test":"datum.value % 1000 === 0","value":-5},"value":-2.5},"labelFontSize":11,"titleFontSize":11.3}},
     "y":{"field":"y","type":"quantitative","scale":{"domain":[0,600],"nice":false},"axis":{"title":null,"tickCount":12,"labelPadding":12,"labelExpr":"datum.value % 250 === 0 ? format(datum.value,'d') : ''","tickSize":{"condition":{"test":"datum.value % 250 === 0","value":-5},"value":-2.5},"labelFontSize":11.5}}}},
   {"data":{"name":"f"},"transform":[{"filter":"datum.p==='4GeV'"}],"mark":{"type":"line","interpolate":"monotone","strokeWidth":2},"encoding":{"x":{"field":"x","type":"quantitative"},"y":{"field":"y","type":"quantitative"}}}
  ]},
  {"width":226,"height":93,"layer":[
   {"data":{"name":"s"},"transform":[{"filter":"datum.p==='6GeV'"}],"mark":{"type":"rect","fill":"white","stroke":"black","strokeWidth":1.2},"encoding":{"x":{"datum":1140,"type":"quantitative"},"x2":{"datum":2500},"y":{"datum":256,"type":"quantitative"},"y2":{"datum":365}}},
   {"data":{"name":"s"},"transform":[{"filter":"datum.p==='6GeV'"}],"mark":{"type":"text","align":"left","fontSize":4.8,"lineHeight":6.7,"dy":2},"encoding":{"x":{"datum":1166,"type":"quantitative"},"y":{"datum":365,"type":"quantitative"},"text":{"field":"n"}}},
   {"data":{"name":"s"},"transform":[{"filter":"datum.p==='6GeV'"}],"mark":{"type":"text","align":"left","fontSize":4.8,"lineHeight":6.7,"dy":2},"encoding":{"x":{"datum":1444,"type":"quantitative"},"y":{"datum":365,"type":"quantitative"},"text":{"field":"c"}}},
   {"data":{"name":"s"},"transform":[{"filter":"datum.p==='6GeV'"}],"mark":{"type":"text","align":"left","fontSize":4.8,"lineHeight":6.7,"dy":2},"encoding":{"x":{"datum":1603,"type":"quantitative"},"y":{"datum":365,"type":"quantitative"},"text":{"field":"v"}}},
   {"data":{"name":"s"},"transform":[{"filter":"datum.p==='6GeV'"}],"mark":{"type":"text","align":"right","fontSize":4.8,"lineHeight":6.7,"dy":8.7},"encoding":{"x":{"datum":2344,"type":"quantitative"},"y":{"datum":365,"type":"quantitative"},"text":{"field":"e"}}},
   {"data":{"name":"h"},"transform":[{"filter":"datum.p==='6GeV'"}],"mark":{"type":"line","interpolate":"step-after","strokeWidth":1},"encoding":{
     "x":{"field":"x","type":"quantitative","scale":{"domain":[-500,2500],"nice":false},"axis":{"title":"Corrected Spectrum for 6GeV","tickCount":15,"labelPadding":9.5,"labelExpr":"datum.value % 1000 === 0 ? format(datum.value,'d') : ''","tickSize":{"condition":{"test":"datum.value % 1000 === 0","value":-5},"value":-2.5},"labelFontSize":11,"titleFontSize":11.3}},
     "y":{"field":"y","type":"quantitative","scale":{"domain":[0,365],"nice":false},"axis":{"title":null,"tickCount":7,"labelPadding":12,"labelExpr":"datum.value % 200 === 0 ? format(datum.value,'d') : ''","tickSize":{"condition":{"test":"datum.value % 200 === 0","value":-5},"value":-2.5},"labelFontSize":11.5}}}},
   {"data":{"name":"f"},"transform":[{"filter":"datum.p==='6GeV'"}],"mark":{"type":"line","interpolate":"monotone","strokeWidth":2},"encoding":{"x":{"field":"x","type":"quantitative"},"y":{"field":"y","type":"quantitative"}}}
  ]}
 ]}
]}
]
}
